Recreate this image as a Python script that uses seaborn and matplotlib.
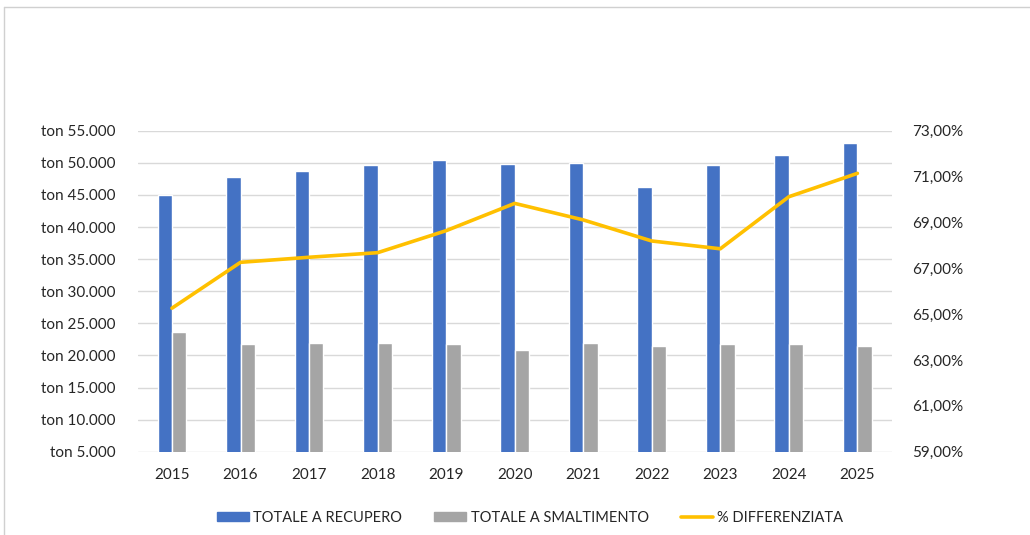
import matplotlib
matplotlib.use("Agg")
import matplotlib.pyplot as plt
import matplotlib.patches as mpatches
import matplotlib.lines as mlines
import seaborn as sns
import pandas as pd
import numpy as np
from matplotlib.ticker import FuncFormatter, MultipleLocator, FixedLocator

anni = ["2015", "2016", "2017", "2018", "2019", "2020", "2021", "2022", "2023", "2024", "2025"]
recupero = [44940, 47740, 48720, 49610, 50440, 49790, 50020, 46230, 49700, 51210, 53040]
smaltimento = [23690, 21780, 21880, 21980, 21780, 20890, 21880, 21510, 21780, 21780, 21420]
differenziata = [65.26, 67.26, 67.48, 67.68, 68.64, 69.83, 69.11, 68.19, 67.85, 70.12, 71.14]

BLU = "#4472C4"
GRIGIO = "#A5A5A5"
GIALLO = "#FFC000"
TESTO = "#262626"

sns.set_style("white")
plt.rcParams["font.family"] = ["Lato", "DejaVu Sans"]

df = pd.DataFrame({
    "anno": anni * 2,
    "ton": recupero + smaltimento,
    "serie": ["TOTALE A RECUPERO"] * len(anni) + ["TOTALE A SMALTIMENTO"] * len(anni),
})

fig = plt.figure(figsize=(10.3, 5.35), dpi=100)
ax = fig.add_axes([0.1337, 0.1557, 0.732, 0.6])

sns.barplot(data=df, x="anno", y="ton", hue="serie", palette=[BLU, GRIGIO],
            width=0.42, gap=0, ax=ax, legend=False, saturation=1)

ax.set_ylim(5000, 55000)
ax.set_xlim(-0.5, len(anni) - 0.5)
ax.yaxis.set_major_locator(MultipleLocator(5000))
ax.yaxis.set_major_formatter(FuncFormatter(lambda v, p: "ton " + f"{int(v):,}".replace(",", ".")))
ax.grid(axis="y", color="#D9D9D9", linewidth=1)
ax.set_axisbelow(True)
ax.set_xlabel("")
ax.set_ylabel("")
for s in ax.spines.values():
    s.set_visible(False)
ax.tick_params(axis="y", length=0, pad=16, labelsize=11, labelcolor=TESTO)
ax.tick_params(axis="x", length=0, pad=12, labelsize=11, labelcolor=TESTO)

ax2 = ax.twinx()
sns.lineplot(x=np.arange(len(anni)), y=differenziata, color=GIALLO, linewidth=2.6, ax=ax2)
ax2.set_ylim(59, 73)
ax2.yaxis.set_major_locator(FixedLocator(np.arange(59, 74, 2)))
ax2.yaxis.set_major_formatter(FuncFormatter(lambda v, p: f"{v:.2f}%".replace(".", ",")))
for s in ax2.spines.values():
    s.set_visible(False)
ax2.tick_params(axis="y", length=0, pad=15, labelsize=11, labelcolor=TESTO)
ax2.set_xlim(-0.5, len(anni) - 0.5)

handles = [
    mpatches.Patch(color=BLU, label="TOTALE A RECUPERO"),
    mpatches.Patch(color=GRIGIO, label="TOTALE A SMALTIMENTO"),
    mlines.Line2D([], [], color=GIALLO, linewidth=2.6, label="% DIFFERENZIATA"),
]
fig.legend(handles=handles, loc="center", bbox_to_anchor=(0.5146, 0.0323), ncol=3,
           frameon=False, fontsize=10.5, labelcolor=TESTO, handlelength=2.2,
           handleheight=0.55, handletextpad=0.3, columnspacing=2.2)

# cornice chiara della schermata
fig.add_artist(mlines.Line2D([4 / 1030, 1], [1 - 7 / 535, 1 - 7 / 535], color="#D0D0D0", linewidth=1))
fig.add_artist(mlines.Line2D([4 / 1030, 4 / 1030], [0, 1 - 7 / 535], color="#D0D0D0", linewidth=1))

fig.savefig("out.png", dpi=100)
